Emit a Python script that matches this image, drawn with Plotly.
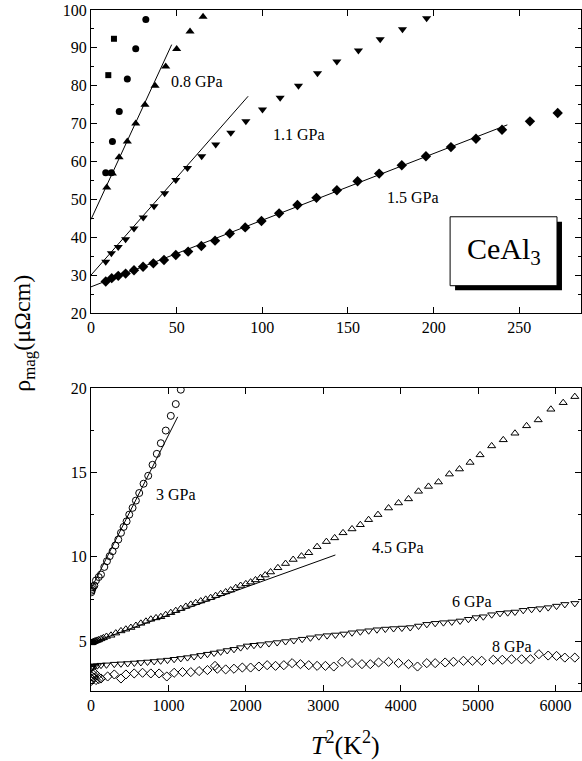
import plotly.graph_objects as go

# ---------------- top panel data (T^2 in K^2, rho in uOhm cm) ----------------
sq_x = [10.1, 13.4]
sq_y = [82.8, 92.4]

circ_x = [8.6, 11.9, 12.5, 16.5, 21.2, 26.1, 32.0]
circ_y = [57.0, 57.0, 65.3, 73.2, 81.8, 89.8, 97.5]

p08_x = [9.2, 12.5, 16.4, 21.2, 26.1, 31.5, 37.4, 43.6, 50.0, 57.8, 65.4]
p08_y = [53.1, 56.8, 61.1, 65.3, 70.0, 75.0, 80.0, 85.1, 89.7, 94.3, 98.2]

p11_x = [8.6, 11.9, 15.9, 20.2, 25.1, 30.5, 36.8, 43.0, 49.5, 56.3, 64.6, 72.8,
         81.6, 90.4, 100.1, 110.4, 121.1, 132.2, 143.5, 156.1, 168.8, 181.8, 195.9]
p11_y = [33.5, 35.8, 37.4, 39.5, 42.3, 45.2, 48.2, 51.6, 55.1, 58.3, 61.4, 64.5,
         67.6, 70.6, 73.7, 76.8, 80.0, 83.3, 86.4, 89.3, 92.3, 94.9, 97.8]

p15_x = [8.6, 12.1, 15.9, 20.2, 25.1, 30.4, 36.4, 42.6, 49.5, 56.7, 64.4, 72.4, 81.0, 90.0,
         99.5, 109.8, 120.5, 131.6, 143.5, 155.6, 168.2, 181.4, 195.5, 210.1, 224.7, 239.9,
         256.2, 272.4]
p15_y = [28.3, 29.2, 29.8, 30.4, 31.3, 32.2, 33.1, 34.0, 35.3, 36.2, 37.7, 39.1, 41.0, 42.6,
         44.3, 46.3, 48.5, 50.4, 52.4, 54.8, 56.8, 59.0, 61.4, 63.8, 66.0, 68.4,
         70.6, 72.8]

# linear fits: (intercept, slope, x_end)
fit_top = {"0.8": (44.7, 0.98, 47.1), "1.1": (30.0, 0.515, 91.7), "1.5": (26.9, 0.176, 243.0)}

# ---------------- bottom panel data ----------------
p3_x = [4, 9, 16, 25, 43, 64, 100, 129, 172, 206, 241, 279, 314, 352, 387, 421, 460, 494,
        537, 580, 623, 679, 739, 795, 850, 902, 966, 1031, 1095, 1160]
p3_y = [7.9, 8.0, 8.1, 8.2, 8.3, 8.6, 8.8, 8.95, 9.4, 9.74, 10.04, 10.33, 10.67, 11.02,
        11.42, 11.77, 12.1, 12.5, 12.9, 13.33, 13.78, 14.33, 14.8, 15.45, 16.1, 16.73,
        17.48, 18.35, 19.05, 19.9]

p45_x = [4, 9, 16, 25, 36, 49, 64, 81, 100, 129, 160, 200, 258, 320, 387, 450, 515, 580,
         644, 710, 773, 840, 902, 965, 1031, 1095, 1160, 1225, 1289, 1353, 1418, 1482,
         1546, 1610, 1675, 1740, 1804, 1870, 1933, 2000, 2062, 2125, 2190, 2250, 2320,
         2414, 2513, 2612, 2719, 2813, 2921, 3041, 3148, 3256, 3372, 3479, 3586, 3707,
         3844, 3973, 4102, 4231, 4360, 4489, 4630, 4760, 4897, 5026, 5176, 5326, 5477,
         5627, 5777, 5941, 6100, 6250]
p45_y = [4.9, 4.92, 4.93, 4.95, 4.97, 5.0, 5.02, 5.05, 5.08, 5.14, 5.2, 5.28, 5.35, 5.48,
         5.61, 5.71, 5.81, 5.93, 6.06, 6.18, 6.3, 6.38, 6.45, 6.57, 6.69, 6.81, 6.93, 7.06,
         7.18, 7.28, 7.38, 7.48, 7.58, 7.7, 7.81, 7.92, 8.03, 8.17, 8.3, 8.4, 8.5, 8.63,
         8.76, 8.92, 9.1, 9.35, 9.6, 9.84, 10.04, 10.24, 10.6, 10.9, 11.12, 11.42, 11.65,
         11.9, 12.2, 12.5, 12.89, 13.19, 13.43, 13.88, 14.17, 14.43, 14.9, 15.2, 15.59,
         16.04, 16.57, 16.93, 17.32, 17.76, 18.11, 18.74, 19.13, 19.49]

p6_x = [4, 9, 16, 25, 49, 81, 129, 200, 301, 387, 473, 560, 644, 730, 816, 900, 988, 1074,
        1160, 1246, 1332, 1418, 1504, 1590, 1675, 1760, 1847, 1933, 2019, 2105, 2190, 2298,
        2405, 2513, 2620, 2728, 2835, 2943, 3050, 3157, 3265, 3372, 3479, 3587, 3694, 3802,
        3909, 4016, 4124, 4231, 4338, 4446, 4553, 4661, 4768, 4875, 4974, 5068, 5176, 5284,
        5383, 5477, 5584, 5692, 5799, 5906, 6014, 6121, 6250]
p6_y = [3.4, 3.45, 3.5, 3.52, 3.54, 3.55, 3.58, 3.6, 3.64, 3.66, 3.68, 3.71, 3.74, 3.77,
        3.8, 3.84, 3.88, 3.93, 3.98, 4.03, 4.09, 4.16, 4.23, 4.3, 4.37, 4.45, 4.52, 4.62,
        4.72, 4.76, 4.8, 4.86, 4.92, 4.98, 5.04, 5.12, 5.2, 5.27, 5.33, 5.37, 5.43, 5.5,
        5.56, 5.62, 5.68, 5.72, 5.75, 5.78, 5.81, 5.9, 6.0, 6.06, 6.1, 6.14, 6.2, 6.3, 6.4,
        6.45, 6.57, 6.65, 6.69, 6.73, 6.83, 6.89, 6.93, 6.99, 7.08, 7.18, 7.24]

p8_x = [4, 9, 16, 25, 36, 49, 64, 81, 100, 129, 215, 301, 387, 451, 558, 666, 773, 880, 979,
        1074, 1182, 1289, 1396, 1504, 1602, 1632, 1740, 1847, 1955, 2062, 2169, 2276, 2384,
        2491, 2598, 2706, 2813, 2921, 3028, 3136, 3243, 3372, 3500, 3608, 3715, 3844, 3973,
        4102, 4218, 4338, 4446, 4575, 4682, 4811, 4927, 5047, 5197, 5313, 5433, 5563, 5678,
        5786, 5906, 6014, 6121, 6250]
p8_y = [2.65, 2.75, 2.9, 3.05, 2.85, 3.1, 2.7, 2.95, 2.75, 2.79, 2.91, 3.03, 2.79, 3.03,
        3.09, 3.13, 3.09, 3.09, 2.91, 3.13, 3.17, 3.17, 3.23, 3.29, 3.54, 3.37, 3.33, 3.37,
        3.44, 3.44, 3.5, 3.58, 3.54, 3.58, 3.7, 3.64, 3.58, 3.54, 3.54, 3.5, 3.78, 3.7,
        3.64, 3.64, 3.74, 3.78, 3.7, 3.64, 3.5, 3.7, 3.7, 3.74, 3.78, 3.84, 3.84, 3.84,
        3.9, 3.9, 3.93, 3.93, 3.93, 4.23, 4.15, 4.13, 4.03, 4.03]

fit_bot = {"3": (8.1, 0.0091, 1120.0), "4.5": (4.9, 0.00165, 3157.0)}

top_ticks = [0, 50, 100, 150, 200, 250]
top_yticks = [20, 30, 40, 50, 60, 70, 80, 90, 100]
bot_ticks = [0, 1000, 2000, 3000, 4000, 5000, 6000]
bot_yticks = [5, 10, 15, 20]

FONT = "Liberation Serif"
fig = go.Figure()


def pts(x, y, sym, xa, ya, size=7):
    open_ = sym.endswith("-open")
    fig.add_trace(go.Scatter(
        x=x, y=y, mode="markers", xaxis=xa, yaxis=ya,
        marker=dict(symbol=sym, size=size, color="black",
                    line=dict(color="black", width=1 if open_ else 0)),
        showlegend=False))


def fit(params, xa, ya):
    b, m, xe = params
    fig.add_trace(go.Scatter(x=[0, xe], y=[b, b + m * xe], mode="lines", xaxis=xa, yaxis=ya,
                             line=dict(color="black", width=1), showlegend=False))


for k in fit_top:
    fit(fit_top[k], "x", "y")
pts(sq_x, sq_y, "square", "x", "y", 6)
pts(circ_x, circ_y, "circle", "x", "y", 7)
pts(p08_x, p08_y, "triangle-up", "x", "y", 8)
pts(p11_x, p11_y, "triangle-down", "x", "y", 8)
pts(p15_x, p15_y, "diamond", "x", "y", 8)

for k in fit_bot:
    fit(fit_bot[k], "x2", "y2")
pts(p3_x, p3_y, "circle-open", "x2", "y2", 7)
pts(p45_x, p45_y, "triangle-up-open", "x2", "y2", 7)
pts(p6_x, p6_y, "triangle-down-open", "x2", "y2", 7)
pts(p8_x, p8_y, "diamond-open", "x2", "y2", 7)

ax_common = dict(showline=True, linecolor="black", linewidth=1, mirror="ticks",
                 ticks="inside", ticklen=6, tickcolor="black", showgrid=False, zeroline=False,
                 tickfont=dict(family=FONT, size=16, color="black"))

fig.update_layout(
    width=582, height=761,
    margin=dict(l=91, r=1, t=10, b=70),
    paper_bgcolor="white", plot_bgcolor="white",
    xaxis=dict(domain=[0, 1], anchor="y", range=[0, 286], tickvals=top_ticks, **ax_common),
    yaxis=dict(domain=[0.5551, 1], anchor="x", range=[20, 100], tickvals=top_yticks,
               minor=dict(ticks="inside", ticklen=3, dtick=5, tick0=0, tickcolor="black"),
               **ax_common),
    xaxis2=dict(domain=[0, 1], anchor="y2", range=[0, 6330], tickvals=bot_ticks, **ax_common),
    yaxis2=dict(domain=[0, 0.4449], anchor="x2", range=[2.05, 20], tickvals=bot_yticks,
                minor=dict(ticks="inside", ticklen=3, dtick=2.5, tick0=0, tickcolor="black"),
                **ax_common),
)

lab = dict(family=FONT, size=16, color="black")
fig.add_annotation(x=62, y=81, xref="x", yref="y", text="0.8 GPa", showarrow=False, font=lab)
fig.add_annotation(x=121.5, y=67.1, xref="x", yref="y", text="1.1 GPa", showarrow=False, font=lab)
fig.add_annotation(x=188, y=50.5, xref="x", yref="y", text="1.5 GPa", showarrow=False, font=lab)
fig.add_annotation(x=1104, y=13.68, xref="x2", yref="y2", text="3 GPa", showarrow=False, font=lab)
fig.add_annotation(x=3960, y=10.53, xref="x2", yref="y2", text="4.5 GPa", showarrow=False, font=lab)
fig.add_annotation(x=4927, y=7.38, xref="x2", yref="y2", text="6 GPa", showarrow=False, font=lab)
fig.add_annotation(x=5442, y=4.68, xref="x2", yref="y2", text="8 GPa", showarrow=False, font=lab)

# CeAl3 box with drop shadow
fig.add_shape(type="rect", xref="x", yref="y", x0=212.5, x1=274.9, y0=26.0, y1=44.1,
              fillcolor="black", line=dict(width=0), layer="above")
fig.add_shape(type="rect", xref="x", yref="y", x0=209.6, x1=272.0, y0=27.2, y1=45.4,
              fillcolor="white", line=dict(color="black", width=1), layer="above")
fig.add_annotation(x=240.8, y=36.3, xref="x", yref="y", text="CeAl<sub>3</sub>",
                   showarrow=False, font=dict(family=FONT, size=30, color="black"))

# axis titles
fig.add_annotation(x=0.52, y=-0.0764, xref="paper", yref="paper",
                   text="<i>T</i><sup>2</sup>(K<sup>2</sup>)", showarrow=False,
                   xanchor="center", yanchor="middle",
                   font=dict(family=FONT, size=26, color="black"))
fig.add_annotation(x=-0.137, y=0.526, xref="paper", yref="paper",
                   text="ρ<sub>mag</sub>(μΩcm)", showarrow=False, textangle=-90,
                   xanchor="center", yanchor="middle",
                   font=dict(family=FONT, size=24, color="black"))

fig.write_html("out.html")
